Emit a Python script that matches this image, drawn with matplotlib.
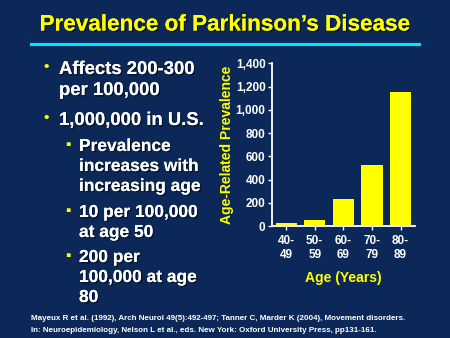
import matplotlib
matplotlib.use('Agg')
import matplotlib.pyplot as plt
import matplotlib.patheffects as pe
from matplotlib import font_manager
from matplotlib.ticker import FuncFormatter

age_groups = ['40-\n49', '50-\n59', '60-\n69', '70-\n79', '80-\n89']
prevalence = [26, 49, 232, 528, 1156]
y_ticks = [0, 200, 400, 600, 800, 1000, 1200, 1400]
footer_lines = ['Mayeux R et al. (1992), Arch Neurol 49(5):492-497; Tanner C, Marder K (2004), Movement disorders.',
                'In: Neuroepidemiology, Nelson L et al., eds. New York: Oxford University Press, pp131-161.']

bg = '#0b2858'
yellow = '#ffff00'
plt.rcParams['font.family'] = ['Liberation Sans', 'DejaVu Sans']
plt.rcParams['font.weight'] = 'bold'

names = {f.name for f in font_manager.fontManager.ttflist}
narrow = 'Liberation Sans Narrow' if 'Liberation Sans Narrow' in names else 'Liberation Sans'

shadow = [pe.withSimplePatchShadow(offset=(1, -1), shadow_rgbFace='black', alpha=0.5), pe.Normal()]

fig = plt.figure(figsize=(4.5, 3.38), dpi=100)
fig.patch.set_facecolor(bg)


def px(x, y):
    return x / 450, 1 - y / 338


# title + cyan rule
fig.text(0.5, 1 - 25 / 338, 'Prevalence of Parkinson\u2019s Disease', color=yellow,
         fontsize=16.2, fontweight='bold', ha='center', va='center', path_effects=shadow)
fig.add_artist(plt.Line2D([31 / 450, 419 / 450], [1 - 44.3 / 338] * 2, color='#00e8ff', lw=2.2,
                          path_effects=shadow))

# bullet text on the left
main_items = [('Affects 200-300', 74, True), ('per 100,000', 95, False), ('1,000,000 in U.S.', 125, True)]
for txt, base, dot in main_items:
    fig.text(*px(59, base), txt, color='white', fontsize=13.3, fontweight='bold', va='baseline',
             path_effects=shadow)
    if dot:
        fig.text(*px(43, base - 3), '\u2022', color=yellow, fontsize=11, va='baseline')

sub_items = [('Prevalence', 151, True), ('increases with', 171, False), ('increasing age', 191, False),
             ('10 per 100,000', 217, True), ('at age 50', 237, False),
             ('200 per', 262, True), ('100,000 at age', 282, False), ('80', 302, False)]
for txt, base, sq in sub_items:
    fig.text(*px(79, base), txt, color='white', fontsize=12.5, fontweight='bold', va='baseline',
             path_effects=shadow)
    if sq:
        fig.text(*px(65, base - 2), '\u25aa', color=yellow, fontsize=11, va='baseline')

# footer reference, sized to span the same width as the original
renderer = fig.canvas.get_renderer()
t0 = fig.text(*px(31, 318), footer_lines[0], color='white', fontsize=6, fontweight='bold',
              va='center', family=narrow)
w = t0.get_window_extent(renderer).width
fsize = 6 * 384 / w
t0.set_fontsize(fsize)
fig.text(*px(31, 331), footer_lines[1], color='white', fontsize=fsize, fontweight='bold',
         va='center', family=narrow)

# bar chart
ax = fig.add_axes([0.604, 0.331, 0.318, 0.4814])
ax.set_facecolor(bg)
ax.bar(range(len(prevalence)), prevalence, width=0.74, color=yellow)
ax.set_xlim(-0.5, 4.5)
ax.set_ylim(0, 1400)
ax.set_yticks(y_ticks)
ax.yaxis.set_major_formatter(FuncFormatter(lambda v, p: '{:,.0f}'.format(v)))
ax.set_xticks(range(len(age_groups)))
ax.set_xticklabels(age_groups, linespacing=1.2)
for s in ['top', 'right']:
    ax.spines[s].set_visible(False)
for s in ['left', 'bottom']:
    ax.spines[s].set_color('white')
    ax.spines[s].set_linewidth(1.3)
ax.tick_params(colors='white', labelsize=8.5, length=3, width=1)
ax.tick_params(axis='y', pad=1.5)
for lab in ax.get_xticklabels() + ax.get_yticklabels():
    lab.set_fontweight('bold')
ax.set_ylabel('Age-Related Prevalence', color=yellow, fontsize=10, fontweight='bold')
ax.yaxis.set_label_coords(-0.265, 0.5)
ax.set_xlabel('Age (Years)', color=yellow, fontsize=10, fontweight='bold', labelpad=7)

plt.savefig('out.png', dpi=100, facecolor=bg)
